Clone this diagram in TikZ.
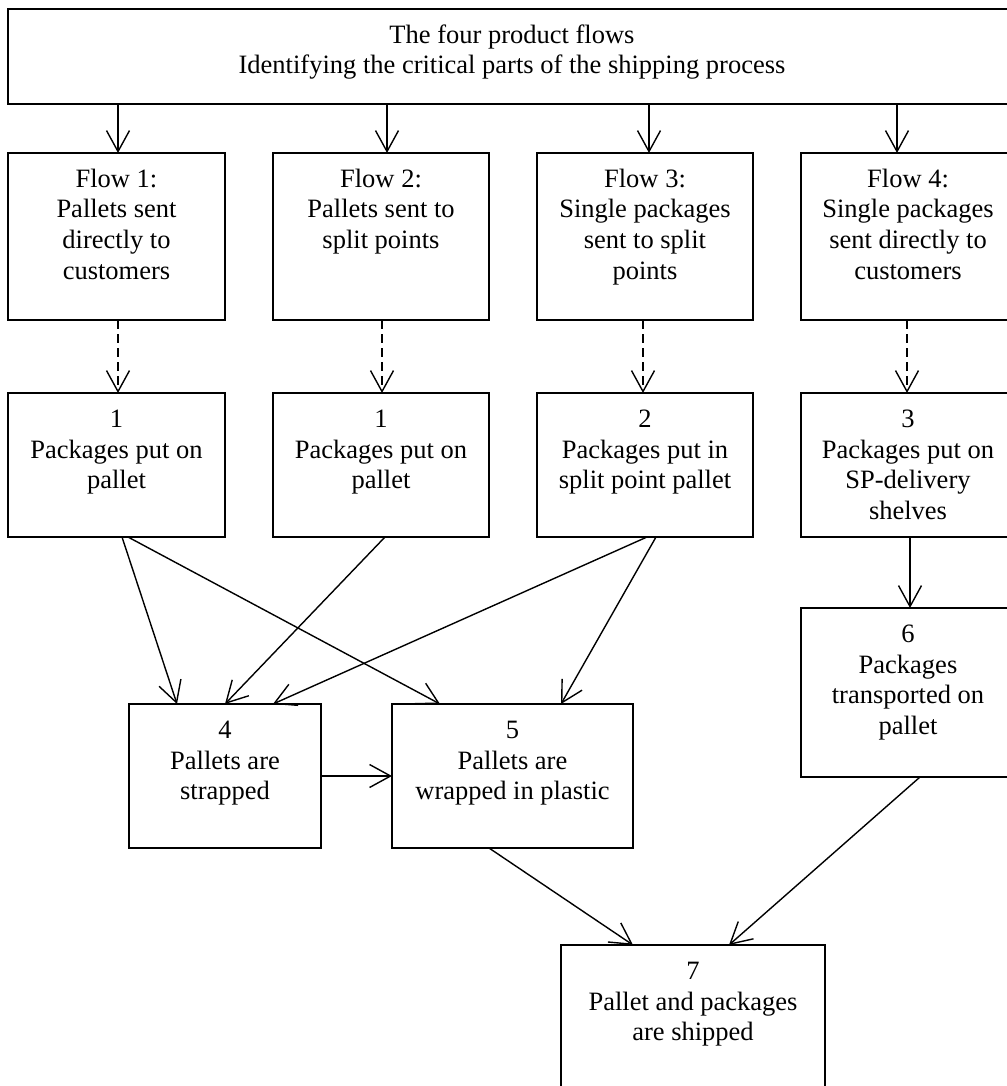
\documentclass[tikz,border=0pt]{standalone}
\usepackage{fontspec}
\setmainfont{Liberation Serif}
\usetikzlibrary{arrows.meta,calc}

% box contents: fixed width and height, text set from the top, centred
\newcommand\stagetext[3]{\parbox[c][#2][t]{#1}{\fontsize{26.5pt}{30.5pt}\selectfont\centering\rule{0pt}{34.5pt}#3\par}}

\begin{document}
\begin{tikzpicture}[x=1pt,y=1pt,
  box/.style={draw, line width=1.5pt, inner sep=0pt, outer sep=0pt},
  arr/.style={line width=1.4pt, -{Straight Barb[length=21pt,width=23pt,line width=1.4pt]}},
  dsh/.style={arr, dash pattern=on 9pt off 5pt}]

\useasboundingbox (0,0) rectangle (1006,-1086);

% heading
\node[box] (top) at (512,-56.5) {\stagetext{1008pt}{95pt}{The four product flows\\Identifying the critical parts of the shipping process}};

% the four flows
\node[box] (f1) at (116.5,-236.5) {\stagetext{217pt}{167pt}{Flow 1:\\Pallets sent\\directly to\\customers}};
\node[box] (f2) at (381,-236.5) {\stagetext{216pt}{167pt}{Flow 2:\\Pallets sent to\\split points}};
\node[box] (f3) at (645,-236.5) {\stagetext{216pt}{167pt}{Flow 3:\\Single packages\\sent to split\\points}};
\node[box] (f4) at (908,-236.5) {\stagetext{214pt}{167pt}{Flow 4:\\Single packages\\sent directly to\\customers}};

% first handling step of each flow
\node[box] (r1) at (116.5,-465) {\stagetext{217pt}{144pt}{1\\Packages put on\\pallet}};
\node[box] (r2) at (381,-465) {\stagetext{216pt}{144pt}{1\\Packages put on\\pallet}};
\node[box] (r3) at (645,-465) {\stagetext{216pt}{144pt}{2\\Packages put in\\split point pallet}};
\node[box] (r4) at (908,-465) {\stagetext{214pt}{144pt}{3\\Packages put on\\SP-delivery\\shelves}};

% later steps
\node[box] (b6) at (908,-692.5) {\stagetext{214pt}{169pt}{6\\Packages\\transported on\\pallet}};
\node[box] (b4) at (225,-776) {\stagetext{192pt}{144pt}{4\\Pallets are\\strapped}};
\node[box] (b5) at (512.5,-776) {\stagetext{241pt}{144pt}{5\\Pallets are\\wrapped in plastic}};
\node[box] (b7) at (693,-1037.5) {\stagetext{264pt}{185pt}{7\\Pallet and packages\\are shipped}};

% heading to flows
\coordinate (t1) at ($(f1.north)+(1.5,0)$);
\coordinate (t2) at ($(f2.north)+(6,0)$);
\coordinate (t3) at ($(f3.north)+(4,0)$);
\coordinate (t4) at ($(f4.north)+(-11,0)$);
\foreach \t in {t1,t2,t3,t4} \draw[arr] (top.south -| \t) -- (\t);

% flows to first steps
\coordinate (d1) at ($(r1.north)+(1.5,0)$);
\coordinate (d2) at ($(r2.north)+(1,0)$);
\coordinate (d3) at ($(r3.north)+(-2,0)$);
\coordinate (d4) at ($(r4.north)+(-1,0)$);
\draw[dsh] (f1.south -| d1) -- (d1);
\draw[dsh] (f2.south -| d2) -- (d2);
\draw[dsh] (f3.south -| d3) -- (d3);
\draw[dsh] (f4.south -| d4) -- (d4);

% pallet handling
\draw[arr] ($(r1.south)+(5.5,0)$) -- ($(b4.north west)+(48,0)$);
\draw[arr] ($(r1.south)+(11.5,0)$) -- ($(b5.north west)+(48,0)$);
\draw[arr] ($(r2.south)+(4,0)$) -- ($(b4.north west)+(96,0)$);
\draw[arr] ($(r3.south)+(2,0)$) -- ($(b4.north west)+(144,0)$);
\draw[arr] ($(r3.south)+(11,0)$) -- ($(b5.north west)+(169,0)$);
\draw[arr] ($(r4.south)+(2,0)$) -- ($(b6.north)+(2,0)$);
\draw[arr] (b4.east) -- (b5.west);

% shipping
\draw[arr] ($(b5.south west)+(97,0)$) -- ($(b7.north west)+(72,0)$);
\draw[arr] ($(b6.south west)+(119,0)$) -- ($(b7.north west)+(168,0)$);
\end{tikzpicture}
\end{document}
